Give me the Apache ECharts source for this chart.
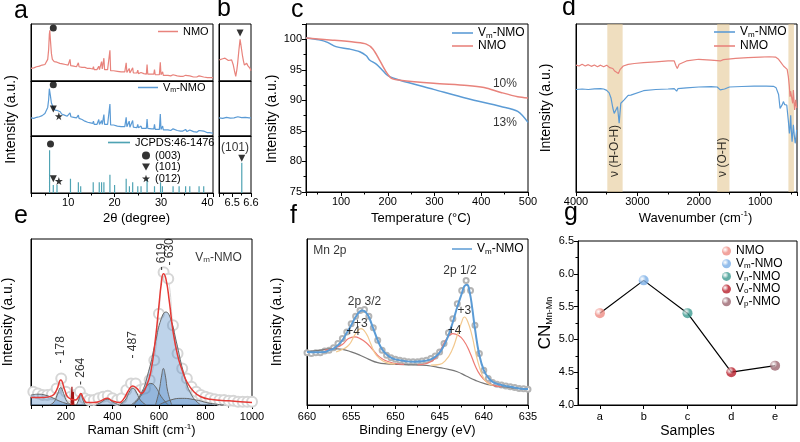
<!DOCTYPE html>
<html>
<head>
<meta charset="utf-8">
<script src="https://cdn.jsdelivr.net/npm/echarts/dist/echarts.min.js"></script>
<style>html,body{margin:0;padding:0;background:#fff}#main{width:800px;height:442px}</style>
</head>
<body>
<div id="main"></div>
<script>
// ---- a: XRD patterns ----
const xrdNMO = [[2,22],[2.3,20],[2.6,23],[2.9,22],[3.2,25],[3.5,24],[3.8,26],[4.1,25],[4.4,28],[4.7,27],[5,29],[5.3,31],[5.6,38],[5.8,55],[5.95,82],[6.05,89],[6.2,70],[6.4,48],[6.6,38],[6.8,35],[7,34],[7.3,31],[7.6,33],[7.9,30],[8.2,31],[8.5,29],[8.8,30],[9.1,28],[9.4,29],[9.7,27],[10,28],[10.25,30],[10.4,38],[10.55,27],[10.9,27],[11.2,26],[11.5,27],[11.8,25],[12.05,27],[12.2,32],[12.35,25],[12.7,26],[13,24],[13.3,23],[13.6,24],[13.9,22],[14.2,22],[14.5,21],[14.8,22],[15.1,20],[15.3,21],[15.45,25],[15.6,20],[15.9,21],[16.2,20],[16.45,21],[16.6,26],[16.75,20],[17,22],[17.2,34],[17.35,21],[17.55,23],[17.7,40],[17.85,20],[18.2,19],[18.5,20],[18.85,18],[19,54],[19.15,18],[19.5,17],[19.8,18],[20,19],[20.2,16],[20.6,17],[21,16],[21.4,16],[21.8,15],[22.2,16],[22.35,15],[22.5,32],[22.65,15],[23,15],[23.15,22],[23.3,14],[23.7,15],[23.9,23],[24.05,14],[24.4,14],[24.8,14],[25,19],[25.15,13],[25.5,13],[25.7,15],[25.85,13],[26.3,13],[26.85,12],[27,29],[27.15,12],[27.5,12],[28,12],[28.45,12],[28.6,20],[28.75,11],[29.2,11],[29.65,11],[29.85,33],[30,11],[30.2,11],[30.35,16],[30.5,10],[31,10],[31.5,10],[31.8,12],[32.1,9],[32.6,11],[32.9,9],[33.5,9],[33.9,11],[34.2,8],[34.7,8],[35.3,10],[35.6,8],[36.2,9],[36.5,7],[37,7],[37.3,9],[37.7,7],[38.2,9],[38.5,6],[39.2,7],[39.5,6],[40,6],[40.5,6],[41.2,6]];
const xrdVm = [[2,33],[2.3,35],[2.6,32],[2.9,35],[3.2,34],[3.5,37],[3.8,35],[4.1,38],[4.4,37],[4.7,40],[5,41],[5.3,44],[5.6,52],[5.8,66],[5.95,86],[6.05,89],[6.2,72],[6.4,60],[6.6,56],[6.8,52],[7,50],[7.2,47],[7.4,49],[7.6,45],[7.8,46],[8,43],[8.3,44],[8.6,40],[8.9,41],[9.2,38],[9.5,39],[9.8,36],[10.2,37],[10.4,42],[10.6,35],[10.9,36],[11.2,34],[11.5,35],[11.8,33],[12.05,35],[12.2,38],[12.35,32],[12.7,31],[13,30],[13.3,29],[13.6,27],[13.9,26],[14.2,25],[14.5,23],[14.8,24],[15.1,22],[15.3,23],[15.45,27],[15.6,21],[15.9,22],[16.2,21],[16.45,22],[16.6,30],[16.75,21],[17,22],[17.2,28],[17.35,21],[17.55,24],[17.7,39],[17.85,21],[18.2,20],[18.5,21],[18.85,20],[19,58],[19.15,20],[19.5,19],[19.8,20],[20,22],[20.2,19],[20.6,18],[21,19],[21.4,17],[21.8,18],[22.2,17],[22.35,18],[22.5,34],[22.65,17],[23,17],[23.15,27],[23.3,16],[23.7,16],[23.9,28],[24.05,16],[24.4,16],[24.8,15],[25,21],[25.15,15],[25.5,15],[25.7,18],[25.85,14],[26.3,14],[26.85,14],[27,31],[27.15,14],[27.5,13],[28,13],[28.45,13],[28.6,21],[28.75,12],[29.2,12],[29.65,12],[29.85,40],[30,12],[30.2,12],[30.35,18],[30.5,11],[31,11],[31.5,11],[31.8,14],[32.1,10],[32.6,13],[32.9,10],[33.5,10],[33.9,13],[34.2,9],[34.7,9],[35.3,12],[35.6,8],[36.2,11],[36.5,8],[37,8],[37.3,10],[37.7,7],[38.2,10],[38.5,7],[39.2,9],[39.5,6],[40,6],[40.5,6],[41.2,5]];
const jcpdsPos = [6.0,6.8,7.6,10.5,12.2,12.7,15.4,16.7,17.2,17.7,19.0,20.0,22.5,23.2,23.9,25.0,25.7,27.0,28.6,29.9,30.3,32.6,33.9,35.3,36.2,38.2,39.2];
const jcpdsH   = [75,14,14,25,19,12,19,19,19,19,32,14,25,12,19,12,12,25,12,19,12,12,12,12,12,12,12];
const a1Dot = [[6.8,93]];
const a2Dot = [[6.8,93]], a2Tri = [[6.8,49]], a2Star = [[8.0,36]];
const a3Dot = [[6.2,86]], a3Tri = [[6.8,25]], a3Star = [[8.0,21]];

// ---- b: zoom near 6.5 ----
const bNMO = [[6.432,37],[6.439,37],[6.45,39],[6.462,40],[6.47,37],[6.48,36],[6.49,39],[6.497,37],[6.506,28],[6.512,18],[6.519,8],[6.525,20],[6.529,31],[6.536,55],[6.542,73],[6.548,60],[6.554,46],[6.56,35],[6.565,28],[6.571,30],[6.577,31],[6.583,27],[6.589,28],[6.595,22],[6.6,18]];
const bVm = [[6.43,33],[6.45,32],[6.47,34],[6.49,32.5],[6.51,33],[6.53,35],[6.55,33.5],[6.57,34],[6.59,33],[6.6,33]];
const bStickPos = [6.551], bStickH = [53];
const b1Tri = [[6.542,84]], b3Tri = [[6.551,61]];

// ---- c: TGA ----
const tgaVm = [[25,100.2],[53,99.9],[71,99.5],[89,98.8],[118,98.4],[140,97.95],[154,97.3],[161,96.6],[176,95.9],[190,94.8],[201,94.0],[226,93.3],[298,91.8],[370,90.3],[442,89.0],[478,88.2],[500,86.4]];
const tgaNMO = [[25,100.2],[82,99.85],[130,99.5],[154,99.2],[168,98.4],[183,96.5],[197,94.6],[208,93.6],[226,93.3],[298,92.8],[370,92.45],[406,92.1],[442,91.3],[478,90.6],[500,90.4]];

// ---- d: FTIR ----
const irNMO = [[4000,75.5],[3950,75],[3900,76],[3850,75],[3800,75.8],[3750,74.8],[3700,75.6],[3650,74.6],[3600,75.5],[3550,74.5],[3500,75.5],[3450,74],[3400,73.5],[3370,72],[3340,73],[3310,70.5],[3280,73],[3230,75],[3150,76],[3050,76.5],[2900,77],[2700,77.5],[2500,78],[2400,78],[2370,75],[2350,73.5],[2320,76],[2290,77],[2200,78],[2000,79],[1800,78.5],[1650,78],[1600,78.8],[1400,79.5],[1200,80],[1000,80.3],[850,80.5],[750,80.3],[700,79],[660,77],[620,75],[590,74.5],[560,73],[541,68.7],[525,63],[514,56.7],[505,60],[486,59.7],[470,52.8],[459,60.7],[445,52],[438,48.8],[421,54.8],[405,50]];
const irVm = [[4000,61],[3900,61.3],[3800,61],[3700,61.4],[3600,61.5],[3550,61.3],[3500,60.5],[3460,59],[3430,56],[3400,50],[3378,46.8],[3351,46.5],[3324,50.8],[3297,40.9],[3270,52.8],[3216,54.8],[3150,57.5],[3108,57.7],[2900,60.3],[2700,61],[2500,61.3],[2400,61.5],[2360,60],[2340,61.5],[2200,62],[2000,62.5],[1800,62.7],[1700,62.5],[1650,60.8],[1620,60.3],[1580,61.3],[1500,62.5],[1300,62.8],[1100,63],[900,63],[784,62.9],[740,62],[700,58],[676,49.8],[660,50.5],[640,52],[622,53.8],[600,52],[567,51.8],[540,42],[524,34.9],[514,38],[503,45.6],[490,35],[480,30],[470,29.2],[459,40],[445,34],[430,29],[421,31],[405,37]];
const irBands = [[3490,3240],[1700,1500],[540,450]];

// ---- e: Raman ----
const ramanRaw = [[60,8],[80,7],[100,6],[120,6],[140,6.5],[160,10],[180,16],[200,8],[220,5],[240,6],[260,8],[280,4],[300,3],[320,3],[340,4],[360,5],[380,5.5],[400,4],[420,3],[440,4],[460,9],[480,13],[500,13],[520,9],[540,10],[560,15],[580,27],[600,55],[620,80],[640,76],[660,48],[680,31],[700,22],[720,16],[740,11],[760,8],[780,6],[800,5],[820,4],[840,3.5],[860,3],[880,3],[900,2.5],[920,2.5],[940,2],[960,2],[980,2],[1000,2]];
const ramanFit = [[50,4.5],[100,4.5],[140,5.5],[160,9],[178,15],[195,9],[210,4.5],[240,3],[255,5],[264,7],[275,4],[290,1.5],[320,1.5],[350,2.5],[378,4],[400,2.5],[430,1.5],[450,4],[470,9],[487,11.5],[505,10],[525,7],[545,11],[565,20],[585,40],[600,60],[610,73],[619,79],[630,76],[645,62],[660,45],[680,30],[700,21],[720,14],[750,8],[780,5],[820,3.5],[900,2.5],[1000,1.5]];
const ramanSpike = [[222,0],[226,11],[228,0],[230,0],[232,8],[234,0]];
const ramanPeaks = [
  [[50,6],[80,6.5],[110,6],[140,4.5],[170,2.5],[200,1],[230,0]],
  [[130,0],[150,2],[165,7],[178,10.5],[190,7],[205,2],[225,0]],
  [[245,0],[255,3],[264,6.5],[273,3],[283,0]],
  [[330,0],[350,1.5],[378,3.5],[405,1.5],[430,0]],
  [[430,0],[455,3],[475,8.5],[487,10],[500,8.5],[520,3],[545,0]],
  [[490,0],[520,5],[545,11],[565,13],[585,11],[610,5],[640,0]],
  [[480,0],[520,6],[555,20],[585,38],[610,52],[630,56],[650,52],[675,38],[705,20],[740,6],[780,0]],
  [[585,0],[600,8],[612,18],[619,22],[627,18],[638,8],[655,0]],
  [[600,0],[650,3],[700,4],[760,3],[820,1],[880,0]]
];

// ---- f: XPS Mn 2p ----
const xpsRaw = [[660,31.5],[659.5,31],[659,31.5],[658.5,31.5],[658,32.5],[657.5,33],[657,34.5],[656.5,37],[656,40],[655.5,44],[655,49],[654.5,53.5],[654,57],[653.5,57.5],[653,53.5],[652.5,46.5],[652,39],[651.5,33],[651,30],[650.5,28.5],[650,27.5],[649.5,27],[649,26.5],[648.5,26],[648,26],[647.5,26],[647,26.5],[646.5,27],[646,28],[645.5,29.5],[645,32],[644.5,37],[644,43.5],[643.5,52],[643,61],[642.5,69],[642,75],[641.5,69],[641,48],[640.5,31],[640,21],[639.5,16],[639,13.5],[638.5,12.5],[638,12],[637.5,11.5],[637,11],[636.5,10.5],[636,10],[635.5,9.8],[635,9.5]];
const xpsFit = [[660,32],[659,31.8],[658,32],[657.5,33],[657,34],[656.5,36],[656,39],[655.5,43.5],[655,48],[654.5,53],[654,56.5],[653.7,57],[653.3,55.5],[653,53],[652.5,46],[652,39],[651.5,33.5],[651,30.5],[650.5,28.5],[650,27.5],[649,26.5],[648,26],[647,26.3],[646,27.5],[645.5,29],[645,31.5],[644.5,36],[644,42],[643.5,50],[643,59],[642.5,67],[642.2,71.5],[641.9,72.5],[641.6,68],[641.3,58],[641,46],[640.5,30],[640,21],[639.5,16.5],[639,14],[638,12],[637,11],[636,10],[635,9.6]];
const xpsBg = [[660,32],[658.5,33],[657,34],[656,33.5],[655,32],[654,30],[653,27.5],[652,25.5],[651,24.8],[649,24.3],[647,24],[646,23.5],[645,22.5],[644,21.5],[643,20],[642,17.5],[641,15],[640,13],[639,11.8],[638,11],[636.5,10.2],[635,9.6]];
const xpsMn4a = [[658,33],[657,34],[656,36.5],[655.3,40],[654.6,41],[654,40],[653.3,37.5],[652.5,33],[651.8,29],[651,26.5],[650,25],[649,24.5]];
const xpsMn4b = [[647.5,24.2],[646.5,25],[645.5,28],[644.8,34],[644.2,40],[643.5,43],[642.9,42],[642.3,39],[641.6,32],[641,24],[640.4,18],[639.7,14],[639,12],[638,11]];
const xpsMn3a = [[656.7,32],[655.8,34],[655.2,36.5],[654.5,43],[653.9,46],[653.3,43],[652.8,37],[652.3,31],[651.8,28],[651,25.5],[650,24.6]];
const xpsMn3b = [[646,24],[645,24.5],[644.3,27],[643.6,33],[643,42],[642.5,50],[642.2,53],[641.8,50],[641.3,41],[640.9,31],[640.5,23],[640,16],[639.5,13],[639,12]];

// ---- g: coordination number ----
const gCats = ['a','b','c','d','e'];
const gCN = [5.4, 5.9, 5.4, 4.5, 4.6];
const gNames = ['g-NMO','g-Vm','g-Vn','g-Vo','g-Vp'];

// text notes [x, y, text]
const bNotes = [[6.515,80,'(101)']];
const cNotes = [[425,92.8,'10%'],[425,86.4,'13%']];
const dNotes = [[3365,9,'ν (H-O-H)'],[1610,9,'ν (O-H)']];
const eNotes = [[178,25,'- 178'],[264,12,'- 264'],[487,28,'- 487'],[613,81,'- 619'],[646,84,'- 630']];
const fNotes = [[653.5,62,'2p 3/2'],[653.9,49,'+3'],[654.8,44,'+4'],[642.7,81,'2p 1/2'],[642.2,57,'+3'],[643.3,45,'+4']];

const FONT = 'Arial, "Liberation Sans", sans-serif';
const RED = '#E8837C', BLUE = '#5B9BD5', TEAL = '#4FA3B3';
const TRI = 'path://M0,0 L10,0 L5,9 Z';
const STAR = 'path://M5,0 L6.2,3.6 L10,3.6 L6.9,5.9 L8.1,9.5 L5,7.3 L1.9,9.5 L3.1,5.9 L0,3.6 L3.8,3.6 Z';
const LINE_ICON = 'path://M0,0 H20 V1.5 H0 Z';

const chart = echarts.init(document.getElementById('main'));

function grid(l, t, w, h) {
  return {left: l, top: t, width: w, height: h, show: true, borderColor: '#000', borderWidth: 1,
    backgroundColor: 'transparent', containLabel: false, outerBoundsMode: 'none'};
}
const tick = {show: true, length: 4, lineStyle: {color: '#000', width: 1}};
const minor = {show: true, splitNumber: 2, length: 2.5, lineStyle: {color: '#000', width: 1}};
function lbl(fmt, margin) { return {show: true, color: '#000', fontSize: 11, fontFamily: FONT, margin: margin || 4, formatter: fmt}; }
const nameStyle = {color: '#000', fontFamily: FONT, fontSize: 14, lineHeight: 16,
  rich: {t: {fontSize: 13, lineHeight: 16, fontFamily: FONT, color: '#000'},
         sup: {fontSize: 8, lineHeight: 9, verticalAlign: 'top', fontFamily: FONT, color: '#000'},
         big: {fontSize: 17, lineHeight: 18, fontFamily: FONT, color: '#000'},
         sub: {fontSize: 9, lineHeight: 9, verticalAlign: 'bottom', fontFamily: FONT, color: '#000'}}};
const xName = Object.assign({}, nameStyle, {fontSize: 13});
function axis(gi, o) {
  return Object.assign({type: 'value', gridIndex: gi, axisLine: {show: true, onZero: false, lineStyle: {color: '#000', width: 1}},
    axisTick: {show: false}, axisLabel: {show: false}, splitLine: {show: false}, minorTick: {show: false},
    nameTextStyle: nameStyle}, o);
}
const every = n => v => (Math.abs(v / n - Math.round(v / n)) < 1e-6 ? String(v) : '');

const xAxes = [
  axis(0, {min: 2, max: 41.2}),
  axis(1, {min: 2, max: 41.2}),
  axis(2, {min: 2, max: 41.2, axisTick: tick, minorTick: minor, axisLabel: lbl(v => (v >= 10 && every(10)(v)) ? String(v) : ''),
    name: '2θ (degree)', nameLocation: 'middle', nameGap: 17, nameTextStyle: Object.assign({}, xName, {padding: [0, 0, 0, 29]})}),
  axis(3, {min: 6.43, max: 6.6}),
  axis(4, {min: 6.43, max: 6.6}),
  axis(5, {min: 6.43, max: 6.6, splitNumber: 2, axisTick: tick, minorTick: minor,
    axisLabel: lbl(v => Math.abs(v - 6.5) < 1e-6 ? '6.5' : (Math.abs(v - 6.6) < 1e-6 ? '6.6' : ''))}),
  axis(6, {min: 25, max: 500, axisTick: tick, minorTick: minor, axisLabel: lbl(every(100)),
    name: 'Temperature (°C)', nameLocation: 'middle', nameGap: 18, nameTextStyle: Object.assign({}, xName, {padding: [0, 0, 0, 8]})}),
  axis(7, {min: 400, max: 4000, inverse: true, axisTick: tick, minorTick: minor, axisLabel: lbl(every(1000)),
    name: '{t|Wavenumber (cm}{sup|-1}{t|)}', nameLocation: 'middle', nameGap: 18, nameTextStyle: Object.assign({}, xName, {padding: [0, 0, 0, 18]})}),
  axis(8, {min: 50, max: 1000, axisTick: tick, minorTick: minor, axisLabel: lbl(every(200), 6),
    name: '{t|Raman Shift (cm}{sup|-1}{t|)}', nameLocation: 'middle', nameGap: 13, nameTextStyle: xName}),
  axis(9, {min: 635, max: 660, inverse: true, axisTick: tick, minorTick: minor, axisLabel: lbl(every(5), 6),
    name: 'Binding Energy (eV)', nameLocation: 'middle', nameGap: 13, nameTextStyle: xName}),
  Object.assign(axis(10, {}), {type: 'category', data: gCats, boundaryGap: true,
    axisTick: {show: true, alignWithLabel: true, length: 4, lineStyle: {color: '#000'}}, axisLabel: lbl(null, 6),
    name: 'Samples', nameLocation: 'middle', nameGap: 13, nameTextStyle: Object.assign({}, xName, {fontSize: 14})})
];
const yAxes = [
  axis(0, {min: 0, max: 100}),
  axis(1, {min: 0, max: 100, name: 'Intensity (a.u.)', nameLocation: 'middle', nameGap: 12,
    nameTextStyle: Object.assign({}, nameStyle, {padding: [0, 22, 0, 0]})}),
  axis(2, {min: 0, max: 100}),
  axis(3, {min: 0, max: 100}),
  axis(4, {min: 0, max: 100}),
  axis(5, {min: 0, max: 100}),
  axis(6, {min: 75, max: 102.5, axisTick: tick, minorTick: minor, axisLabel: lbl(every(5)),
    name: 'Intensity (a.u.)', nameLocation: 'middle', nameGap: 24, nameTextStyle: Object.assign({}, nameStyle, {padding: [0, 22, 0, 0]})}),
  axis(7, {min: 0, max: 100, name: 'Intensity (a.u.)', nameLocation: 'middle', nameGap: 22}),
  axis(8, {min: 0, max: 100, name: 'Intensity (a.u.)', nameLocation: 'middle', nameGap: 15}),
  axis(9, {min: 0, max: 100, name: 'Intensity (a.u.)', nameLocation: 'middle', nameGap: 22}),
  axis(10, {min: 4, max: 6.5, interval: 0.5, axisTick: tick, minorTick: minor, axisLabel: lbl(v => v.toFixed(1)),
    name: '{big|CN}{sub|Mn-Mn}', nameLocation: 'middle', nameGap: 24})
];

function line(name, gi, data, color, width, extra) {
  return Object.assign({type: 'line', name, xAxisIndex: gi, yAxisIndex: gi, data, symbol: 'none', sampling: null,
    lineStyle: {color, width}, itemStyle: {color}, silent: true, z: 3}, extra || {});
}
function marks(name, gi, data, symbol, size) {
  return {type: 'scatter', name, xAxisIndex: gi, yAxisIndex: gi, data, symbol, symbolSize: size,
    itemStyle: {color: '#000'}, silent: true, z: 6};
}
function sticks(pos, h) {
  const out = [];
  pos.forEach((p, i) => { out.push([p, 0], [p, h[i]], [p, null]); });
  return out;
}
// text notes drawn as labels of invisible scatter points
function notes(gi, arr, lab, size) {
  const fs = size || 12;
  return {type: 'scatter', xAxisIndex: gi, yAxisIndex: gi, symbol: 'circle', symbolSize: 1,
    itemStyle: {color: 'rgba(0,0,0,0)'}, silent: true, z: 7,
    data: arr.map(a => ({name: a[2], value: [a[0], a[1]]})),
    label: Object.assign({show: true, position: 'inside', color: '#000', fontSize: fs, fontFamily: FONT,
      formatter: p => (p.name.indexOf('{') === 0 ? p.name : '{k|' + p.name + '}'),
      rich: {k: {color: '#000', fontSize: fs, fontFamily: FONT},
             n: {fontSize: 12, lineHeight: 14, fontFamily: FONT, color: '#000'},
             s: {fontSize: 8, lineHeight: 8, verticalAlign: 'bottom', fontFamily: FONT, color: '#000'}}}, lab || {})};
}
function ball(c) {
  return {type: 'radial', x: 0.35, y: 0.35, r: 0.75,
    colorStops: [{offset: 0, color: 'rgba(255,255,255,0.85)'}, {offset: 0.5, color: c}, {offset: 1, color: c}]};
}

const subRich = {n: {fontSize: 12, lineHeight: 14, fontFamily: FONT, color: '#000'},
  s: {fontSize: 8, lineHeight: 8, verticalAlign: 'bottom', fontFamily: FONT, color: '#000'}};
const subRich11 = {n: {fontSize: 11, lineHeight: 13, fontFamily: FONT, color: '#000'},
  s: {fontSize: 7, lineHeight: 7, verticalAlign: 'bottom', fontFamily: FONT, color: '#000'}};
const legendText = {
  'a-NMO': '{n|NMO}', 'a-Vm': '{n|V}{s|m}{n|-NMO}', 'a-JCPDS': '{n|JCPDS:46-1476}',
  'a-003': '{n|(003)}', 'a-101': '{n|(101)}', 'a-012': '{n|(012)}',
  'c-Vm': '{n|V}{s|m}{n|-NMO}', 'c-NMO': '{n|NMO}', 'd-Vm': '{n|V}{s|m}{n|-NMO}', 'd-NMO': '{n|NMO}',
  'f-Vm': '{n|V}{s|m}{n|-NMO}',
  'g-NMO': '{n|NMO}', 'g-Vm': '{n|V}{s|m}{n|-NMO}', 'g-Vn': '{n|V}{s|n}{n|-NMO}', 'g-Vo': '{n|V}{s|o}{n|-NMO}', 'g-Vp': '{n|V}{s|p}{n|-NMO}'
};
function legend(names, left, top, extra, icon) {
  return Object.assign({data: names.map(n => icon === null ? n : {name: n, icon: LINE_ICON}), left, top, orient: 'vertical',
    itemWidth: 20, itemHeight: 10, itemGap: 0, padding: 0,
    selectedMode: false, formatter: n => legendText[n],
    textStyle: {fontSize: 12, fontFamily: FONT, color: '#000', rich: subRich}}, extra || {});
}
const a11 = {textStyle: {fontSize: 11, fontFamily: FONT, color: '#000', rich: subRich11}};

const series = [
  line('a-NMO', 0, xrdNMO, RED, 1.2),
  marks('a-003', 0, a1Dot, 'circle', 7),
  line('a-Vm', 1, xrdVm, BLUE, 1.2),
  marks('a-003', 1, a2Dot, 'circle', 7),
  marks('a-101', 1, a2Tri, TRI, 7),
  marks('a-012', 1, a2Star, STAR, 8),
  line('a-JCPDS', 2, sticks(jcpdsPos, jcpdsH), TEAL, 1.2, {connectNulls: false}),
  marks('a-003', 2, a3Dot, 'circle', 7),
  marks('a-101', 2, a3Tri, TRI, 7),
  marks('a-012', 2, a3Star, STAR, 8),
  line('b-NMO', 3, bNMO, RED, 1.2),
  marks('b-101', 3, b1Tri, TRI, 7),
  line('b-Vm', 4, bVm, BLUE, 1.2),
  line('b-stick', 5, sticks(bStickPos, bStickH), TEAL, 1.2),
  marks('b-101', 5, b3Tri, TRI, 7),
  notes(5, bNotes, null, 12),
  line('c-Vm', 6, tgaVm, BLUE, 1.5, {smooth: 0.3}),
  line('c-NMO', 6, tgaNMO, RED, 1.5, {smooth: 0.3}),
  notes(6, cNotes, {align: 'left', verticalAlign: 'middle'}),
  line('d-NMO', 7, irNMO, RED, 1.2, {markArea: {silent: true, itemStyle: {color: 'rgba(228,200,148,0.6)'},
    data: irBands.map(b => [{xAxis: b[0]}, {xAxis: b[1]}])}}),
  line('d-Vm', 7, irVm, BLUE, 1.2),
  notes(7, dNotes, {rotate: 90, align: 'left', verticalAlign: 'middle'}),
  line('e-raw', 8, ramanRaw, '#d8d8d8', 1, {symbol: 'emptyCircle', symbolSize: 10, showSymbol: true, smooth: true,
    itemStyle: {color: '#d6d6d6', borderWidth: 1}, z: 1})
];
ramanPeaks.forEach((p, i) => series.push(line('e-peak' + i, 8, p, '#666', 1, {smooth: true, z: 2,
  areaStyle: {color: 'rgba(70,130,195,0.5)'}})));
series.push(
  line('e-spike', 8, ramanSpike, '#A31515', 1.2, {z: 3}),
  line('e-fit', 8, ramanFit, '#E53935', 1.5, {smooth: true, z: 4}),
  notes(8, eNotes, {rotate: 90, align: 'left', verticalAlign: 'middle'}),
  notes(8, [[756, 89, '{n|V}{s|m}{n|-NMO}']], {align: 'left', verticalAlign: 'middle'}),
  line('f-raw', 9, xpsRaw, '#bbb', 0, {symbol: 'emptyCircle', symbolSize: 5, showSymbol: true,
    lineStyle: {width: 0, opacity: 0}, itemStyle: {color: '#b4b4b4', borderWidth: 1}, z: 1}),
  line('f-bg', 9, xpsBg, '#777', 1.2, {smooth: true}),
  line('f-mn4a', 9, xpsMn4a, '#EE7B74', 1.2, {smooth: true}),
  line('f-mn4b', 9, xpsMn4b, '#EE7B74', 1.2, {smooth: true}),
  line('f-mn3a', 9, xpsMn3a, '#F3C98F', 1.2, {smooth: true}),
  line('f-mn3b', 9, xpsMn3b, '#F3C98F', 1.2, {smooth: true}),
  line('f-Vm', 9, xpsFit, BLUE, 2, {smooth: true, z: 4}),
  notes(9, fNotes),
  notes(9, [[659.3, 93, 'Mn 2p']], {align: 'left', verticalAlign: 'middle'}, 12),
  line('g-line', 10, gCN, '#000', 1.2, {z: 3})
);
const gColors = ['#EE8C84', '#7AAEE6', '#3E9B91', '#B8202C', '#9B6670'];
gNames.forEach((n, i) => series.push({type: 'scatter', name: n, xAxisIndex: 10, yAxisIndex: 10,
  data: [[gCats[i], gCN[i]]], symbolSize: 10, itemStyle: {color: ball(gColors[i])}, silent: true, z: 5}));

const letters = [['a', 14, 24], ['b', 217, 22], ['c', 291, 23], ['d', 562, 21], ['e', 14, 229], ['f', 290, 229], ['g', 564, 226]];

chart.setOption({
  animation: false,
  backgroundColor: '#fff',
  textStyle: {fontFamily: FONT, color: '#000'},
  grid: [grid(31, 24, 182, 57), grid(31, 81, 182, 55), grid(31, 136, 182, 57),
    grid(219, 24, 32, 57), grid(219, 81, 32, 55), grid(219, 136, 32, 57),
    grid(306, 24, 222, 168), grid(576, 24, 221, 168),
    grid(31, 239, 221, 166), grid(307, 239, 221, 166), grid(578, 241, 219, 164)],
  xAxis: xAxes,
  yAxis: yAxes,
  legend: [
    legend(['a-NMO'], 158, 26, a11),
    legend(['a-Vm'], 138, 82, a11),
    legend(['a-JCPDS'], 108, 137, Object.assign({itemWidth: 22}, a11)),
    legend(['a-003', 'a-101', 'a-012'], 142, 150, {itemWidth: 8, itemHeight: 8, itemGap: 0.5,
      textStyle: {fontSize: 11, fontFamily: FONT, color: '#000', rich: {n: {fontSize: 11, lineHeight: 10, fontFamily: FONT, color: '#000'}}}}, null),
    legend(['c-Vm', 'c-NMO'], 452, 27, {itemWidth: 21}),
    legend(['d-Vm', 'd-NMO'], 714, 26, {itemWidth: 21, itemGap: 1}),
    legend(['f-Vm'], 452, 243),
    legend(gNames, 722, 245, {itemWidth: 9, itemHeight: 9, itemGap: 0.7,
      textStyle: {fontSize: 12, fontFamily: FONT, color: '#000', rich: Object.assign({}, subRich, {n: {fontSize: 12, lineHeight: 12, fontFamily: FONT, color: '#000'}})}}, null)
  ],
  graphic: letters.map(l => ({type: 'text', x: l[1], y: l[2], silent: true,
    style: {text: l[0], fontSize: 25, fontFamily: FONT, fill: '#000', verticalAlign: 'bottom'}})),
  series
});
</script>
</body>
</html>
